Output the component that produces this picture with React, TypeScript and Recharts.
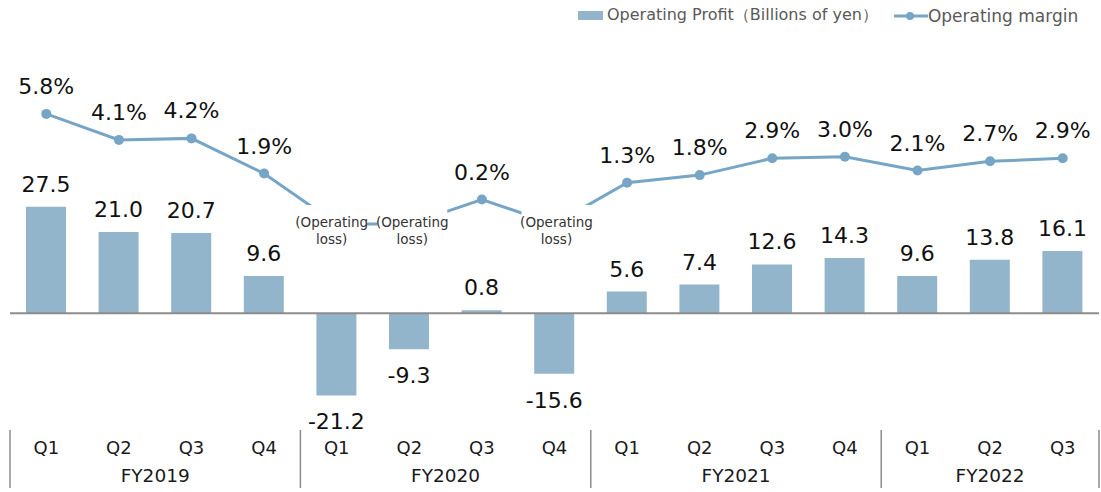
import { ComposedChart, Bar, Line, XAxis, YAxis, ReferenceLine, LabelList, Legend } from 'recharts';

const quarters = ['Q1', 'Q2', 'Q3', 'Q4', 'Q1', 'Q2', 'Q3', 'Q4', 'Q1', 'Q2', 'Q3', 'Q4', 'Q1', 'Q2', 'Q3'];
const fiscalYears = ['FY2019', 'FY2019', 'FY2019', 'FY2019', 'FY2020', 'FY2020', 'FY2020', 'FY2020', 'FY2021', 'FY2021', 'FY2021', 'FY2021', 'FY2022', 'FY2022', 'FY2022'];
// billions of yen
const operatingProfit = [27.5, 21.0, 20.7, 9.6, -21.2, -9.3, 0.8, -15.6, 5.6, 7.4, 12.6, 14.3, 9.6, 13.8, 16.1];
// % (loss quarters sit behind the "(Operating loss)" boxes)
const operatingMargin = [5.8, 4.1, 4.2, 1.9, -1.4, -1.4, 0.2, -1.4, 1.3, 1.8, 2.9, 3.0, 2.1, 2.7, 2.9];

const data = quarters.map((q, i) => ({
  key: `${fiscalYears[i]} ${q}`,
  profit: operatingProfit[i],
  margin: operatingMargin[i],
}));

const W = 1101;
const H = 492;
const M = { top: 40, right: 2, left: 10, bottom: 0 };
const BAND = (W - M.left - M.right) / data.length;

const BAR = '#93b5cb';
const LINE = '#76a5c6';
const FONT = '"DejaVu Sans", Verdana, sans-serif';

const isLoss = (i: number) => operatingProfit[i] < 0;

const QuarterTick = (props: any) => {
  const { x, y, index } = props;
  const fy = fiscalYears[index];
  const first = index === 0 || fiscalYears[index - 1] !== fy;
  const last = index === data.length - 1;
  const groupSize = fiscalYears.filter((f) => f === fy).length;
  return (
    <g>
      <text x={x} y={y + 24} textAnchor="middle" fontSize={18} fontFamily={FONT} fill="#1a1a1a">
        {quarters[index]}
      </text>
      {first && (
        <>
          <line x1={x - BAND / 2} x2={x - BAND / 2} y1={y} y2={y + 58} stroke="#8c8c8c" strokeWidth={1.5} />
          <text x={x + ((groupSize - 1) / 2) * BAND} y={y + 52} textAnchor="middle" fontSize={18.5} fontFamily={FONT} fill="#1a1a1a">
            {fy}
          </text>
        </>
      )}
      {last && <line x1={x + BAND / 2} x2={x + BAND / 2} y1={y} y2={y + 58} stroke="#8c8c8c" strokeWidth={1.5} />}
    </g>
  );
};

const BarValue = (props: any) => {
  const { x, y, width, height, value } = props;
  const top = Math.min(y, y + height);
  const bottom = Math.max(y, y + height);
  const ty = value < 0 ? bottom + 34 : top - 15;
  return (
    <text x={x + width / 2} y={ty} textAnchor="middle" fontSize={22} fontFamily={FONT} fill="#111">
      {Number(value).toFixed(1)}
    </text>
  );
};

const MarginValue = (props: any) => {
  const { x, y, value, index } = props;
  if (isLoss(index)) {
    // push neighbouring loss boxes apart so the line peeks between them
    const nudge = isLoss(index + 1) ? -5 : isLoss(index - 1) ? 3 : 2;
    const cx = x + nudge;
    return (
      <g>
        <rect x={cx - 35} y={y - 19} width={70} height={44} fill="#fff" />
        <text x={cx} y={y + 3} textAnchor="middle" fontSize={13.5} fontFamily={FONT} fill="#333">(Operating</text>
        <text x={cx} y={y + 20} textAnchor="middle" fontSize={13.5} fontFamily={FONT} fill="#333">loss)</text>
      </g>
    );
  }
  return (
    <text x={x} y={y - 20} textAnchor="middle" fontSize={22} fontFamily={FONT} fill="#111">
      {`${Number(value).toFixed(1)}%`}
    </text>
  );
};

const LegendBox = () => (
  <div style={{ display: 'flex', alignItems: 'center', fontFamily: FONT, fontSize: 16, color: '#595959', whiteSpace: 'nowrap' }}>
    <span style={{ display: 'inline-block', width: 25, height: 9, background: BAR, marginRight: 4 }} />
    <span>Operating Profit（Billions of yen）</span>
    <svg width={34} height={12} style={{ marginLeft: 16 }}>
      <line x1={0} x2={34} y1={6} y2={6} stroke={LINE} strokeWidth={3} />
      <circle cx={16} cy={6} r={4} fill={LINE} />
    </svg>
    <span style={{ fontSize: 17 }}>Operating margin</span>
  </div>
);

export default function App() {
  return (
    <div style={{ position: 'absolute', left: 0, top: 0, width: W, height: H, background: '#fff' }}>
      <ComposedChart width={W} height={H} data={data} margin={M}>
        <XAxis
          dataKey="key"
          xAxisId="x"
          height={62}
          axisLine={false}
          tickLine={false}
          tickSize={0}
          tickMargin={0}
          interval={0}
          tick={<QuarterTick />}
        />
        <YAxis yAxisId="profit" hide domain={[-30.12, 70.53]} allowDataOverflow />
        <YAxis yAxisId="margin" hide orientation="right" domain={[-14.86, 10.63]} allowDataOverflow />
        <Legend
          layout="vertical"
          align="center"
          verticalAlign="middle"
          wrapperStyle={{ top: 5, left: 578, width: 520, height: 24 }}
          content={<LegendBox />}
        />
        <Bar dataKey="profit" xAxisId="x" yAxisId="profit" fill={BAR} barSize={40} isAnimationActive={false}>
          <LabelList dataKey="profit" content={<BarValue />} />
        </Bar>
        <ReferenceLine y={0} xAxisId="x" yAxisId="profit" stroke="#8c8c8c" strokeWidth={2} />
        <Line
          dataKey="margin"
          xAxisId="x"
          yAxisId="margin"
          stroke={LINE}
          strokeWidth={3}
          dot={{ r: 5, fill: LINE, stroke: LINE, strokeWidth: 0 }}
          activeDot={false}
          isAnimationActive={false}
        >
          <LabelList dataKey="margin" content={<MarginValue />} />
        </Line>
      </ComposedChart>
    </div>
  );
}
